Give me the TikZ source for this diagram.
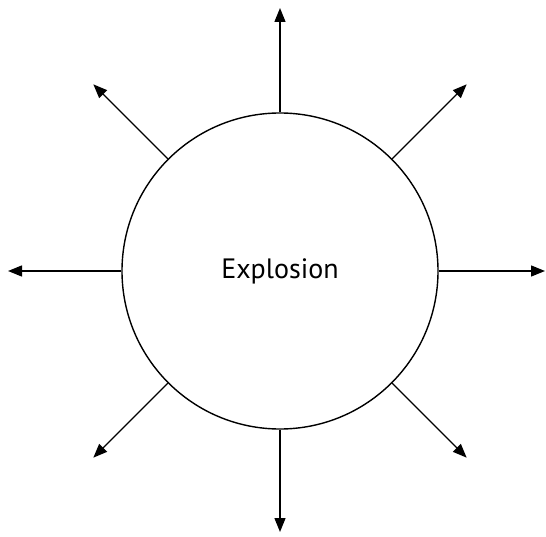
\documentclass[tikz,border=0pt]{standalone}
\usepackage{fontspec}
\setmainfont{PT Sans}
\usetikzlibrary{arrows.meta, calc}

\begin{document}
\begin{tikzpicture}[x=1pt, y=1pt, >={Triangle[length=14pt, width=11pt]}, line width=1.4pt,
    blast/.style={circle, draw, minimum size=316pt, inner sep=0pt, font=\fontsize{28}{32}\selectfont}]
\useasboundingbox (0,0) rectangle (546,536);
\node[blast] (boom) at (280,265) {Explosion};
% eight rays out of the circle
\foreach \a/\r in {0/265,45/264,90/263,135/264,180/272,225/264,270/261,315/264} {
  \coordinate (tip\a) at ($(boom.center)+(\a:\r)$);
  \draw[->] (boom.\a) -- (tip\a);
}
\end{tikzpicture}
\end{document}
